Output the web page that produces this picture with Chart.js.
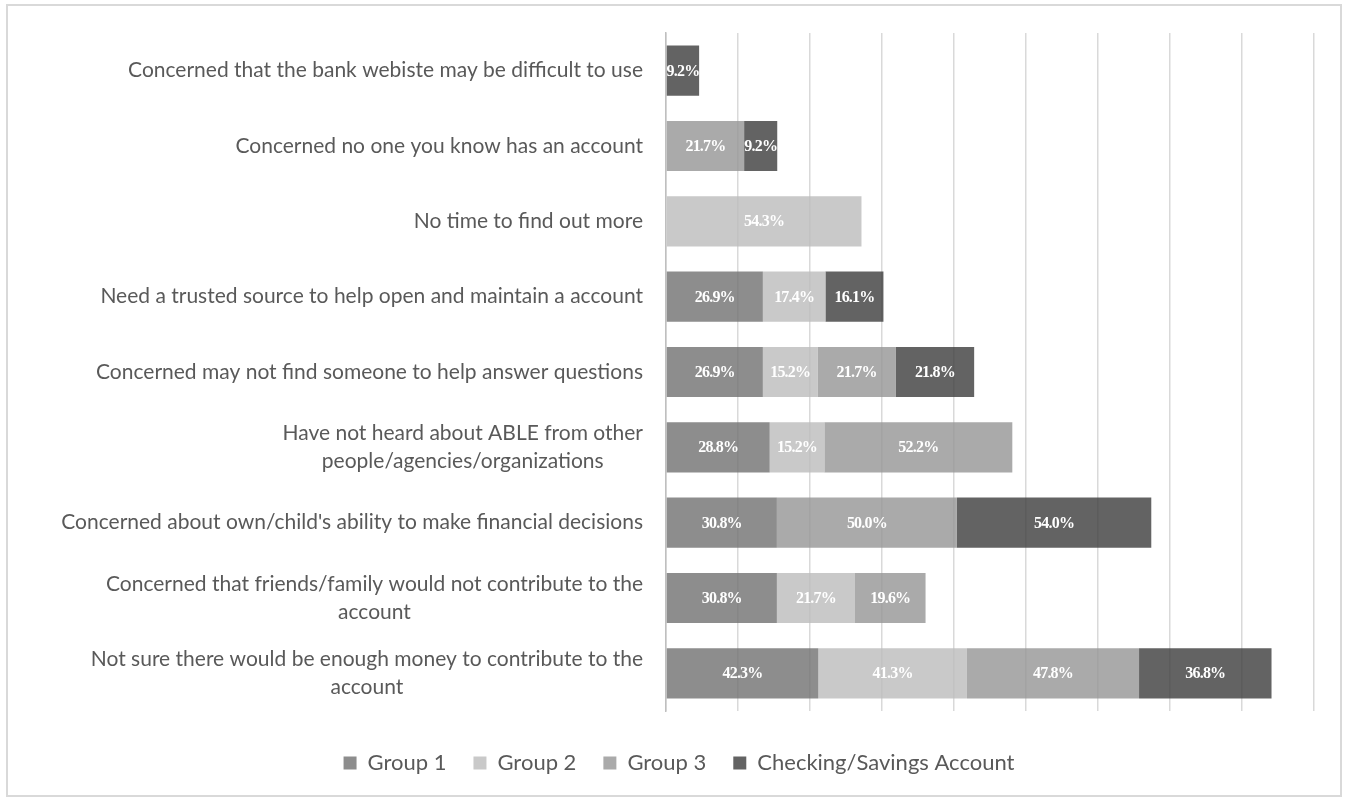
<!DOCTYPE html>
<html>
<head>
<meta charset="utf-8">
<script src="https://cdn.jsdelivr.net/npm/chart.js@4.4.1/dist/chart.umd.min.js"></script>
<style>
    html, body { margin: 0; padding: 0; background: #fff; }
    #wrap { position: absolute; left: 0; top: 0; width: 1347px; height: 801px; }
    #frame { position: absolute; left: 6px; top: 4px; width: 1336px; height: 793px; border: 2px solid #d9d9d9; box-sizing: border-box; pointer-events: none; }
</style>
</head>
<body>
<div id="wrap"><canvas id="barChart" width="1347" height="801"></canvas></div>
<div id="frame"></div>
<script>
// CATEGORIAS (de cima para baixo)
const categories = [
    'Concerned that the bank webiste may be difficult to use',
    'Concerned no one you know has an account',
    'No time to find out more',
    'Need a trusted source to help open and maintain a account',
    'Concerned may not find someone to help answer questions',
    ['Have not heard about ABLE from other', 'people/agencies/organizations'],
    "Concerned about own/child's ability to make financial decisions",
    ['Concerned that friends/family would not contribute to the', 'account'],
    ['Not sure there would be enough money to contribute to the', 'account']
];

// VALORES DAS SÉRIES (%)
const group1 = [null, null, null, 26.9, 26.9, 28.8, 30.8, 30.8, 42.3];
const group2 = [null, null, 54.3, 17.4, 15.2, 15.2, null, 21.7, 41.3];
const group3 = [null, 21.7, null, null, 21.7, 52.2, 50.0, 19.6, 47.8];
const checking = [9.2, 9.2, null, 16.1, 21.8, null, 54.0, null, 36.8];

const seriesNames = ['Group 1', 'Group 2', 'Group 3', 'Checking/Savings Account'];
const xTicks = [0, 20, 40, 60, 80, 100, 120, 140, 160, 180];

const TEXT_GREY = '#595959';
const LABEL_FONT = '21px Lato';

// RÓTULOS DO EIXO Y (bloco alinhado à direita, linhas centralizadas)
const yLabelPlugin = {
    id: 'yLabels',
    afterLayout(chart) {
        // desloca a legenda um pouco para a direita, como no original
        chart.legend.left += 22;
        chart.legend.right += 22;
    },
    afterDraw(chart) {
        const { ctx, scales: { y } } = chart;
        ctx.save();
        ctx.font = LABEL_FONT;
        ctx.fillStyle = TEXT_GREY;
        ctx.textAlign = 'center';
        ctx.textBaseline = 'middle';
        const right = y.right - 23;
        const lineH = 28;
        categories.forEach((lbl, i) => {
            const lines = Array.isArray(lbl) ? lbl : [lbl];
            const blockW = Math.max(...lines.map(l => ctx.measureText(l).width));
            const cx = right - blockW / 2;
            const cy = y.getPixelForValue(i);
            lines.forEach((l, k) => {
                ctx.fillText(l, cx, cy + (k - (lines.length - 1) / 2) * lineH);
            });
        });
        ctx.restore();
    }
};

// RÓTULOS DE VALOR DENTRO DAS BARRAS
const valueLabelPlugin = {
    id: 'valueLabels',
    afterDatasetsDraw(chart) {
        const { ctx } = chart;
        ctx.save();
        ctx.font = 'bold 16px "Liberation Serif"';
        ctx.letterSpacing = '-0.8px';
        ctx.fillStyle = '#ffffff';
        ctx.textAlign = 'center';
        ctx.textBaseline = 'middle';
        chart.data.datasets.forEach((ds, di) => {
            const meta = chart.getDatasetMeta(di);
            meta.data.forEach((bar, i) => {
                const v = ds.data[i];
                if (v === null || v === undefined) return;
                const p = bar.getCenterPoint();
                ctx.fillText(v.toFixed(1) + '%', p.x, p.y + 1);
            });
        });
        ctx.restore();
    }
};

const ctx = document.getElementById('barChart').getContext('2d');
new Chart(ctx, {
    type: 'bar',
    data: {
        labels: categories,
        datasets: [
            { label: seriesNames[0], data: group1, backgroundColor: 'rgba(112,112,112,0.8)' },
            { label: seriesNames[1], data: group2, backgroundColor: 'rgba(187,187,187,0.8)' },
            { label: seriesNames[2], data: group3, backgroundColor: 'rgba(149,149,149,0.8)' },
            { label: seriesNames[3], data: checking, backgroundColor: 'rgba(60,60,60,0.8)' }
        ]
    },
    options: {
        indexAxis: 'y',
        responsive: false,
        animation: false,
        layout: { padding: { top: 33, right: 33, bottom: 17, left: 0 } },
        datasets: { bar: { categoryPercentage: 1, barPercentage: 0.665, borderWidth: 0 } },
        scales: {
            x: {
                stacked: true,
                min: xTicks[0],
                max: xTicks[xTicks.length - 1],
                afterBuildTicks(scale) { scale.ticks = xTicks.map(v => ({ value: v })); },
                ticks: { display: false },
                grid: { color: '#d9d9d9', lineWidth: 1.5, drawTicks: false },
                border: { display: false },
                afterFit(scale) { scale.height = 14; }
            },
            y: {
                stacked: true,
                ticks: { display: false },
                grid: { display: false },
                border: { display: true, color: '#bfbfbf', width: 1.5 },
                afterFit(scale) { scale.width = 666; }
            }
        },
        plugins: {
            legend: {
                position: 'bottom',
                labels: {
                    font: { family: 'Lato', size: 22 },
                    color: TEXT_GREY,
                    boxWidth: 13,
                    boxHeight: 13,
                    padding: 27
                }
            },
            tooltip: { enabled: false }
        }
    },
    plugins: [yLabelPlugin, valueLabelPlugin]
});
</script>
</body>
</html>
